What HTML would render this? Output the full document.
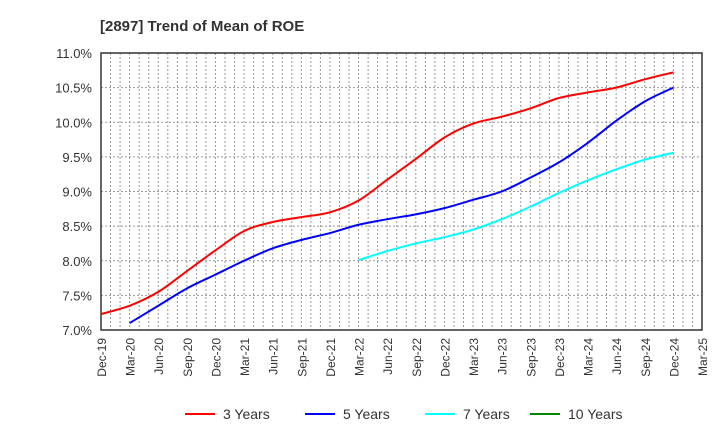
<!DOCTYPE html>
<html><head><meta charset="utf-8"><style>
body{margin:0;background:#fff;font-family:"Liberation Sans",sans-serif}
</style></head><body>
<svg id="c" width="720" height="440" xmlns="http://www.w3.org/2000/svg" font-family="Liberation Sans, sans-serif"></svg>
<script>
const xLabels=["Dec-19","Mar-20","Jun-20","Sep-20","Dec-20","Mar-21","Jun-21","Sep-21","Dec-21","Mar-22","Jun-22","Sep-22","Dec-22","Mar-23","Jun-23","Sep-23","Dec-23","Mar-24","Jun-24","Sep-24","Dec-24","Mar-25"];
const yTicks=[7.0,7.5,8.0,8.5,9.0,9.5,10.0,10.5,11.0];
const s3=[7.23,7.35,7.55,7.85,8.15,8.43,8.56,8.63,8.70,8.87,9.17,9.47,9.78,9.98,10.08,10.2,10.35,10.43,10.5,10.62,10.72];
const s5=[null,7.1,7.35,7.6,7.8,8.0,8.18,8.3,8.4,8.52,8.6,8.67,8.76,8.88,9.0,9.2,9.42,9.7,10.02,10.3,10.5];
const s7=[null,null,null,null,null,null,null,null,null,8.01,8.14,8.25,8.34,8.45,8.6,8.78,8.98,9.16,9.32,9.46,9.56];
const s10=[];
const svg=document.getElementById('c');const NS="http://www.w3.org/2000/svg";
const L=101,R=702,T=53,B=330;
const xq=i=>L+i*(R-L)/21;
const y=v=>B-(v-7)/4*(B-T);
function mk(t,a,p){const e=document.createElementNS(NS,t);for(const k in a)e.setAttribute(k,a[k]);(p||svg).appendChild(e);return e;}
let t=mk('text',{x:100,y:31,'font-size':15,'font-weight':'bold',fill:'#333'});t.textContent="[2897]  Trend of Mean of ROE";

const g=mk('g',{});
for(let m=1;m<63;m++){const x=L+m*(R-L)/63;mk('line',{x1:x,x2:x,y1:T,y2:B,stroke:'#999','stroke-dasharray':'2,2','stroke-width':1},g);}
yTicks.forEach(v=>{mk('line',{x1:L,x2:R,y1:y(v),y2:y(v),stroke:'#999','stroke-dasharray':'2,2'},g);
const tx=mk('text',{x:92,y:y(v)+5,'text-anchor':'end','font-size':13,fill:'#333'});tx.textContent=v.toFixed(1)+"%";
});
const fr=mk('rect',{x:L,y:T,width:R-L,height:B-T,fill:'none',stroke:'#333','stroke-width':1.5});

xLabels.forEach((l,i)=>{const x=xq(i);const tx=mk('text',{transform:`translate(${x+5},${B+8}) rotate(-90)`,'text-anchor':'end','font-size':12,fill:'#333'});tx.textContent=l;
});
function path(data,col,name){const pts=[];data.forEach((v,i)=>{if(v!=null)pts.push([xq(i),y(v)]);});if(pts.length<2)return;
let d=`M${pts[0][0]},${pts[0][1]}`;for(let i=0;i<pts.length-1;i++){const p0=pts[Math.max(0,i-1)],p1=pts[i],p2=pts[i+1],p3=pts[Math.min(pts.length-1,i+2)];
d+=` C${p1[0]+(p2[0]-p0[0])/6},${p1[1]+(p2[1]-p0[1])/6} ${p2[0]-(p3[0]-p1[0])/6},${p2[1]-(p3[1]-p1[1])/6} ${p2[0]},${p2[1]}`;}
const e=mk('path',{d:d,fill:'none',stroke:col,'stroke-width':2});}
path(s3,'#f00','series-3-years');path(s5,'#00f','series-5-years');path(s7,'#0ff','series-7-years');path(s10,'#080','series-10-years');
[["3 Years","#f00",185],["5 Years","#00f",305],["7 Years","#0ff",425],["10 Years","#080",530]].forEach(a=>{
const lg=mk('g',{});
mk('line',{x1:a[2],x2:a[2]+30,y1:414,y2:414,stroke:a[1],'stroke-width':2},lg);
const tx=mk('text',{x:a[2]+38,y:419,'font-size':14,fill:'#333'},lg);tx.textContent=a[0];});
</script>
</body></html>
